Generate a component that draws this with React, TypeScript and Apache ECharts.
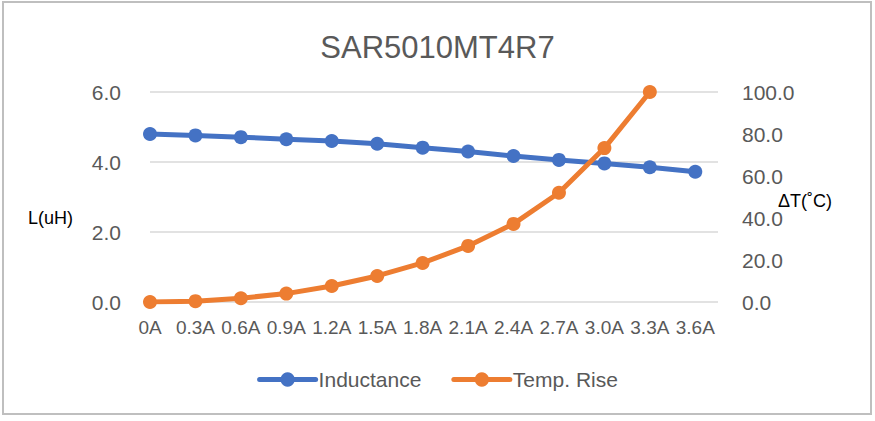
import React, { useEffect, useRef } from "react";
import * as echarts from "echarts";

const titleText = "SAR5010MT4R7";
const currents = [0, 0.3, 0.6, 0.9, 1.2, 1.5, 1.8, 2.1, 2.4, 2.7, 3.0, 3.3, 3.6];
const currentLabels = ["0A", "0.3A", "0.6A", "0.9A", "1.2A", "1.5A", "1.8A", "2.1A", "2.4A", "2.7A", "3.0A", "3.3A", "3.6A"];
const inductance = [4.8, 4.76, 4.71, 4.65, 4.6, 4.52, 4.41, 4.3, 4.17, 4.06, 3.96, 3.85, 3.72];
const tempRise = [0, 0.4, 1.8, 4, 7.6, 12.4, 18.6, 26.7, 37.2, 52, 73.3, 100];
const seriesNames = ["Inductance", "Temp. Rise"];
const leftAxisName = "L(uH)";
const rightAxisName = "ΔT(˚C)";

const FONT = "'Liberation Sans', Arial, sans-serif";
const GREY = "#595959";

export default function App() {
  const ref = useRef<HTMLDivElement>(null);
  useEffect(() => {
    if (!ref.current) return;
    const chart = echarts.init(ref.current, undefined, { renderer: "svg" });
    const labelFor = (v: number) => {
      const i = Math.round(v / 0.3);
      if (i < 0 || i >= currentLabels.length || Math.abs(v - currents[i]) > 1e-6) return "";
      return currentLabels[i];
    };
    chart.setOption({
      animation: false,
      backgroundColor: "#ffffff",
      textStyle: { fontFamily: FONT },
      title: {
        text: titleText,
        left: "center",
        top: 32,
        padding: 0,
        textStyle: { fontFamily: FONT, fontSize: 31, fontWeight: "normal", color: GREY },
      },
      legend: {
        bottom: 26,
        left: "center",
        itemWidth: 56,
        itemHeight: 18,
        itemGap: 30,
        lineStyle: { width: 5, cap: "round" },
        textStyle: { fontFamily: FONT, fontSize: 21, color: GREY, padding: [0, 0, 0, -2] },
        data: seriesNames,
      },
      graphic: [
        {
          type: "rect",
          shape: { x: 3, y: 2, width: 868, height: 412 },
          style: { fill: "none", stroke: "#BFBFBF", lineWidth: 2 },
          silent: true,
        },
        {
          type: "text",
          x: 28,
          y: 218,
          style: { text: leftAxisName, fontFamily: FONT, fontSize: 18, fill: "#000", verticalAlign: "middle" },
        },
        {
          type: "text",
          x: 778,
          y: 201,
          style: { text: rightAxisName, fontFamily: FONT, fontSize: 18, fill: "#000", verticalAlign: "middle" },
        },
      ],
      grid: { left: 150, right: 157, top: 92, bottom: 119, containLabel: false },
      xAxis: {
        type: "value",
        min: 0,
        max: 3.75,
        interval: 0.3,
        axisLine: { show: false },
        axisTick: { show: false },
        splitLine: { show: false },
        axisLabel: {
          color: GREY,
          fontFamily: FONT,
          fontSize: 19,
          margin: 16,
          showMaxLabel: true,
          formatter: (v: number) => labelFor(v),
        },
      },
      yAxis: [
        {
          type: "value",
          min: 0,
          max: 6,
          interval: 2,
          axisLine: { show: false },
          axisTick: { show: false },
          splitLine: { show: true, lineStyle: { color: "#D9D9D9", width: 1.5 } },
          axisLabel: {
            color: GREY,
            fontFamily: FONT,
            fontSize: 21,
            margin: 29,
            formatter: (v: number) => v.toFixed(1),
          },
        },
        {
          type: "value",
          min: 0,
          max: 100,
          interval: 20,
          position: "right",
          axisLine: { show: false },
          axisTick: { show: false },
          splitLine: { show: false },
          axisLabel: {
            color: GREY,
            fontFamily: FONT,
            fontSize: 21,
            margin: 24,
            formatter: (v: number) => v.toFixed(1),
          },
        },
      ],
      series: [
        {
          name: seriesNames[0],
          type: "line",
          yAxisIndex: 0,
          data: inductance.map((v, i) => [currents[i], v]),
          symbol: "circle",
          symbolSize: 14,
          lineStyle: { color: "#4472C4", width: 5 },
          itemStyle: { color: "#4472C4" },
          z: 2,
        },
        {
          name: seriesNames[1],
          type: "line",
          yAxisIndex: 1,
          data: tempRise.map((v, i) => [currents[i], v]),
          symbol: "circle",
          symbolSize: 14,
          lineStyle: { color: "#ED7D31", width: 5 },
          itemStyle: { color: "#ED7D31" },
          z: 3,
        },
      ],
    });
    return () => chart.dispose();
  }, []);
  return (
    <div
      ref={ref}
      style={{ position: "absolute", left: 0, top: 0, width: 875, height: 421 }}
    />
  );
}
